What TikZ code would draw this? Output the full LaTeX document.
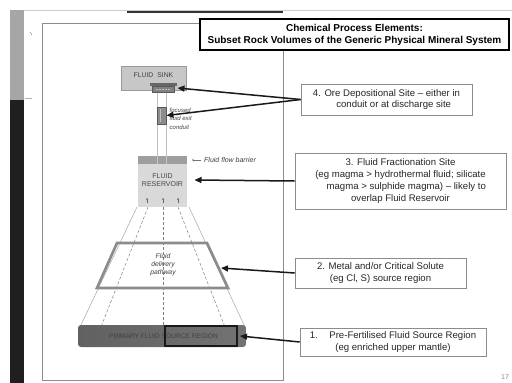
\documentclass[tikz,border=0pt]{standalone}
\usepackage{fontspec}
\setmainfont{Liberation Sans}
\usetikzlibrary{arrows.meta}
\begin{document}
\begin{tikzpicture}[x=1pt,y=-1pt,
  callout/.style={draw=black!45, line width=0.6pt, fill=white, align=center,
    font=\fontsize{9.6}{11.8}\selectfont, inner sep=0pt, text=black!85},
  ptr/.style={line width=1.5pt, draw=black!90, -{Triangle[length=7pt,width=6pt]}},
  tiny/.style={font=\fontsize{6.5}{7}\selectfont, text=black!75, inner sep=0pt},
  fanline/.style={draw=black!35, line width=0.5pt},
  fandash/.style={draw=black!50, line width=0.5pt, dash pattern=on 3pt off 2pt},
  conduit/.style={draw=black!25, line width=0.6pt}
]
\useasboundingbox (0,0) rectangle (512,383);
\fill[white] (0,0) rectangle (512,383);
% left strip and top border
\fill[black!35] (10,10) rectangle (24,100);
\fill[black!88] (10,100) rectangle (24,383);
\draw[black!20, line width=0.5pt] (24,10) -- (512,10);
\draw[black!80, line width=1.6pt] (127,12) -- (283,12);
\draw[black!40, line width=0.6pt] (30,32) -- (32,35);
\draw[black!30, line width=0.5pt] (25,98) -- (32,98);
% main frame
\draw[black!45, line width=0.7pt] (42,23) rectangle (283,380);
% title
\node (title) [draw=black, line width=1.3pt, fill=white, minimum width=309pt, minimum height=31pt,
  inner sep=0pt, align=center, font=\fontsize{10}{12}\selectfont\bfseries] at (354.5,34.5)
  {Chemical Process Elements:\\Subset Rock Volumes of the Generic Physical Mineral System};
% fan lines
\draw[fanline] (137,207) -- (80,327);
\draw[fandash] (148,207) -- (101,327);
\draw[fandash] (163,207) -- (163,327);
\draw[fandash] (178,207) -- (225,327);
\draw[fanline] (189,207) -- (245,327);
% trapezoid
\draw[draw=black!45, line width=2.6pt, line join=miter] (117,243) -- (207,243) -- (228,288) -- (97,288) -- cycle;
\node (path) [tiny, font=\fontsize{6.8}{8}\selectfont\itshape, align=center] at (163,265) {Fluid\\delivery\\pathway};
\coordinate (trapR) at (221,268);
% conduit
\draw[conduit] (157,92) -- (157,156);
\draw[conduit] (166,92) -- (166,156);
% fluid sink
\node (sink) [fill=black!22, draw=black!40, line width=0.6pt, minimum width=65pt, minimum height=24pt, inner sep=0pt] at (153.5,78) {};
\node (sinklabel) [tiny, font=\fontsize{6.8}{7}\selectfont] at (153.5,75) {FLUID\hspace{4pt}SINK};
\fill[black!60] (150,83) rectangle (177,86);
\node (vent) [fill=black!50, draw=black!65, line width=0.6pt, minimum width=22pt, minimum height=6pt, inner sep=0pt] at (163.5,89) {};
\draw[black!25, line width=0.6pt, dash pattern=on 2pt off 1pt] (156,89) -- (171,89);
\coordinate (ventR) at (177.5,88);
% conduit constriction
\node (crect) [fill=black!45, draw=black!65, line width=1pt, minimum width=9pt, minimum height=17pt, inner sep=0pt] at (161.5,115.5) {};
\draw[black!25, line width=0.6pt] (160,109) -- (160,122);
\node (clabel) [tiny, font=\fontsize{6}{8.5}\selectfont\itshape, align=left, anchor=north west] at (169.5,107.5)
  {focused\\fluid exit\\conduit};
% reservoir
\node (res) [fill=black!15, minimum width=49pt, minimum height=43pt, inner sep=0pt] at (162.5,185.5) {};
\node (barrier) [fill=black!38, minimum width=49pt, minimum height=8pt, inner sep=0pt] at (162.5,160) {};
\draw[black!22, line width=0.5pt] (157,156) -- (157,164);
\draw[black!22, line width=0.5pt] (166,156) -- (166,164);
\node (reslabel) [tiny, font=\fontsize{7}{8.5}\selectfont, text=black!72, align=center] at (162.5,180) {FLUID\\RESERVOIR};
\foreach \xx/\nm in {147/ua,163/ub,178/uc}{
  \coordinate (\nm a) at (\xx,203);
  \coordinate (\nm b) at (\xx,198);
  \draw[black!60, line width=0.5pt, -{Straight Barb[length=1.3pt,width=2pt]}] (\nm a) -- (\nm b);
}
\coordinate (resT) at (194.5,180);
% barrier label
\coordinate (barA) at (201,160);
\coordinate (barB) at (192,160);
\draw[black!55, line width=0.5pt, -{Straight Barb[length=1.5pt,width=2.5pt]}] (barA) -- (barB);
\node (barlabel) [tiny, font=\fontsize{7}{7}\selectfont\itshape, anchor=west] at (204,160) {Fluid flow barrier};
% primary source region
\node (src) [rounded corners=3pt, left color=black!62, middle color=black!22, right color=black!55,
  minimum width=168pt, minimum height=22pt, inner sep=0pt] at (162,336) {};
\node (srclabel) [tiny, font=\fontsize{6.6}{7}\selectfont, text=black!75] at (163.5,336.5) {PRIMARY FLUID SOURCE REGION};
\draw[black!90, line width=1.8pt] (165,326) rectangle (237,346);
\coordinate (srcR) at (240,336);
% callouts
\node (box4) [callout, minimum width=171pt, minimum height=31pt] at (386.5,99.5)
  {4. Ore Depositional Site -- either in\\\hspace{1.5em}conduit or at discharge site};
\node (box3) [callout, minimum width=211pt, minimum height=56pt] at (400.5,181)
  {3. Fluid Fractionation Site\\(eg magma > hydrothermal fluid; silicate\\\hspace{1.2em}magma > sulphide magma) -- likely to\\overlap Fluid Reservoir};
\node (box2) [callout, minimum width=171pt, minimum height=30pt] at (380.5,273)
  {2. Metal and/or Critical Solute\\(eg Cl, S) source region};
\node (box1) [callout, minimum width=186pt, minimum height=28pt] at (393,342)
  {1.\hspace{1.2em}Pre-Fertilised Fluid Source Region\\(eg enriched upper mantle)};
\node (pagenum) [tiny, text=black!45, font=\fontsize{7}{7}\selectfont] at (505,377) {17};
% arrows
\draw[ptr] (box4.west) -- (ventR);
\draw[ptr] (box4.west) -- (crect.east);
\draw[ptr] (box3.west) -- (resT);
\draw[ptr] (box2.west) -- (trapR);
\draw[ptr] (box1.west) -- (srcR);
\end{tikzpicture}
\end{document}
